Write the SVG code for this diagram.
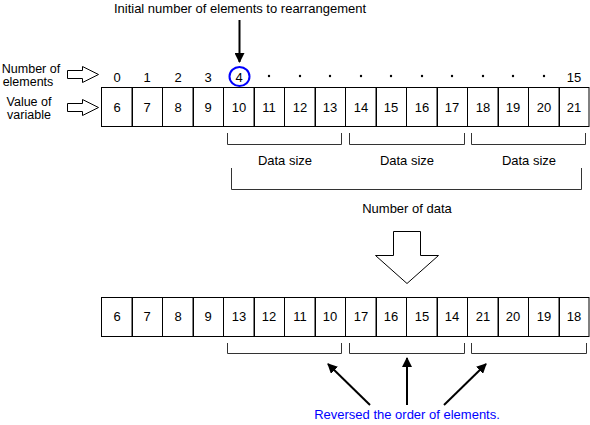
<svg xmlns="http://www.w3.org/2000/svg" width="590" height="425" viewBox="0 0 590 425">
<style>
text{font-family:"Liberation Sans",Arial,sans-serif;font-size:13px;fill:#000;text-anchor:middle}
.lbl{font-size:12.5px}
.cell{fill:#fff;stroke:#000;stroke-width:1}
.br{fill:none;stroke:#333;stroke-width:1}
.hollow{fill:#fff;stroke:#000;stroke-width:1}
.blue{fill:#0000ff}
</style>
<defs>
<marker id="ah" viewBox="0 0 10 10" refX="9" refY="5" markerWidth="10" markerHeight="10" markerUnits="userSpaceOnUse" orient="auto">
<path d="M0,0 L10,5 L0,10 z" fill="#000"/>
</marker>
</defs>
<rect width="590" height="425" fill="#fff"/>

<g id="title"><text x="240" y="13">Initial number of elements to rearrangement</text></g>

<g id="label-elements">
<text class="lbl" x="31" y="73">Number of</text>
<text class="lbl" x="28" y="86">elements</text>
<polygon class="hollow" points="67.5,70.5 82.5,70.5 82.5,66.5 98.5,74.5 82.5,82.5 82.5,78.5 67.5,78.5"/>
</g>
<g id="label-value">
<text class="lbl" x="29" y="106">Value of</text>
<text class="lbl" x="29" y="119">variable</text>
<polygon class="hollow" points="67.5,103.5 82.5,103.5 82.5,99.5 98.5,107.5 82.5,115.5 82.5,111.5 67.5,111.5"/>
</g>

<g id="indices">
<text x="117" y="82">0</text>
<text x="147" y="82">1</text>
<text x="178" y="82">2</text>
<text x="208" y="82">3</text>
<ellipse cx="239.5" cy="76.5" rx="10" ry="9.5" fill="none" stroke="#0000ff" stroke-width="2"/>
<text x="239" y="82">4</text>
<g fill="#000">
<circle cx="269" cy="76" r="1.2"/><circle cx="300" cy="76" r="1.2"/><circle cx="330" cy="76" r="1.2"/>
<circle cx="361" cy="76" r="1.2"/><circle cx="391" cy="76" r="1.2"/><circle cx="422" cy="76" r="1.2"/>
<circle cx="452" cy="76" r="1.2"/><circle cx="483" cy="76" r="1.2"/><circle cx="513" cy="76" r="1.2"/>
<circle cx="544" cy="76" r="1.2"/>
</g>
<text x="574" y="82">15</text>
</g>

<g id="row-top">
<rect class="cell" x="101.5" y="87.5" width="30.5" height="39"/>
<rect class="cell" x="132.5" y="87.5" width="30" height="39"/>
<rect class="cell" x="162.5" y="87.5" width="30.5" height="39"/>
<rect class="cell" x="193.5" y="87.5" width="30" height="39"/>
<rect class="cell" x="223.5" y="87.5" width="30.5" height="39"/>
<rect class="cell" x="254.5" y="87.5" width="30" height="39"/>
<rect class="cell" x="284.5" y="87.5" width="30.5" height="39"/>
<rect class="cell" x="315.5" y="87.5" width="30" height="39"/>
<rect class="cell" x="345.5" y="87.5" width="30.5" height="39"/>
<rect class="cell" x="376.5" y="87.5" width="30" height="39"/>
<rect class="cell" x="406.5" y="87.5" width="30.5" height="39"/>
<rect class="cell" x="437.5" y="87.5" width="30" height="39"/>
<rect class="cell" x="467.5" y="87.5" width="30.5" height="39"/>
<rect class="cell" x="498.5" y="87.5" width="30" height="39"/>
<rect class="cell" x="528.5" y="87.5" width="30.5" height="39"/>
<rect class="cell" x="559.5" y="87.5" width="29.5" height="39"/>
<text x="117" y="112">6</text><text x="147" y="112">7</text><text x="178" y="112">8</text><text x="208" y="112">9</text>
<text x="239" y="112">10</text><text x="269" y="112">11</text><text x="300" y="112">12</text><text x="330" y="112">13</text>
<text x="361" y="112">14</text><text x="391" y="112">15</text><text x="422" y="112">16</text><text x="452" y="112">17</text>
<text x="483" y="112">18</text><text x="513" y="112">19</text><text x="544" y="112">20</text><text x="574" y="112">21</text>
</g>

<g id="datasize-brackets">
<path class="br" d="M227.5,133 V144.5 H341.5 V133"/>
<path class="br" d="M349.5,133 V144.5 H464.5 V133"/>
<path class="br" d="M471.5,133 V144.5 H585.5 V133"/>
<text x="285" y="165">Data size</text>
<text x="407" y="165">Data size</text>
<text x="529" y="165">Data size</text>
</g>

<g id="numdata-bracket">
<path class="br" d="M231.5,168 V189.5 H581.5 V168"/>
<text x="407" y="213">Number of data</text>
</g>

<g id="down-arrow">
<polygon class="hollow" points="393.5,231.5 420.5,231.5 420.5,255.5 438.5,255.5 407,283.5 375.5,255.5 393.5,255.5"/>
</g>

<g id="row-bottom">
<rect class="cell" x="101.5" y="297.5" width="30.5" height="39"/>
<rect class="cell" x="132.5" y="297.5" width="30" height="39"/>
<rect class="cell" x="162.5" y="297.5" width="30.5" height="39"/>
<rect class="cell" x="193.5" y="297.5" width="30" height="39"/>
<rect class="cell" x="223.5" y="297.5" width="30.5" height="39"/>
<rect class="cell" x="254.5" y="297.5" width="30" height="39"/>
<rect class="cell" x="284.5" y="297.5" width="30.5" height="39"/>
<rect class="cell" x="315.5" y="297.5" width="30" height="39"/>
<rect class="cell" x="345.5" y="297.5" width="30.5" height="39"/>
<rect class="cell" x="376.5" y="297.5" width="30" height="39"/>
<rect class="cell" x="406.5" y="297.5" width="30.5" height="39"/>
<rect class="cell" x="437.5" y="297.5" width="30" height="39"/>
<rect class="cell" x="467.5" y="297.5" width="30.5" height="39"/>
<rect class="cell" x="498.5" y="297.5" width="30" height="39"/>
<rect class="cell" x="528.5" y="297.5" width="30.5" height="39"/>
<rect class="cell" x="559.5" y="297.5" width="29.5" height="39"/>
<text x="117" y="321">6</text><text x="147" y="321">7</text><text x="178" y="321">8</text><text x="208" y="321">9</text>
<text x="239" y="321">13</text><text x="269" y="321">12</text><text x="300" y="321">11</text><text x="330" y="321">10</text>
<text x="361" y="321">17</text><text x="391" y="321">16</text><text x="422" y="321">15</text><text x="452" y="321">14</text>
<text x="483" y="321">21</text><text x="513" y="321">20</text><text x="544" y="321">19</text><text x="574" y="321">18</text>
</g>

<g id="reverse-brackets">
<path class="br" d="M227.5,343 V353.5 H341.5 V343"/>
<path class="br" d="M349.5,343 V353.5 H464.5 V343"/>
<path class="br" d="M471.5,343 V353.5 H586.5 V343"/>
</g>

<g id="note"><text class="blue" x="407" y="419">Reversed the order of elements.</text></g>

<g id="connectors" stroke="#000" stroke-width="2" fill="none">
<line x1="239.5" y1="20" x2="239.5" y2="62" marker-end="url(#ah)"/>
<line x1="370" y1="405" x2="328" y2="364" marker-end="url(#ah)"/>
<line x1="407" y1="405" x2="407" y2="358" marker-end="url(#ah)"/>
<line x1="444" y1="405" x2="486" y2="364" marker-end="url(#ah)"/>
</g>
</svg>
